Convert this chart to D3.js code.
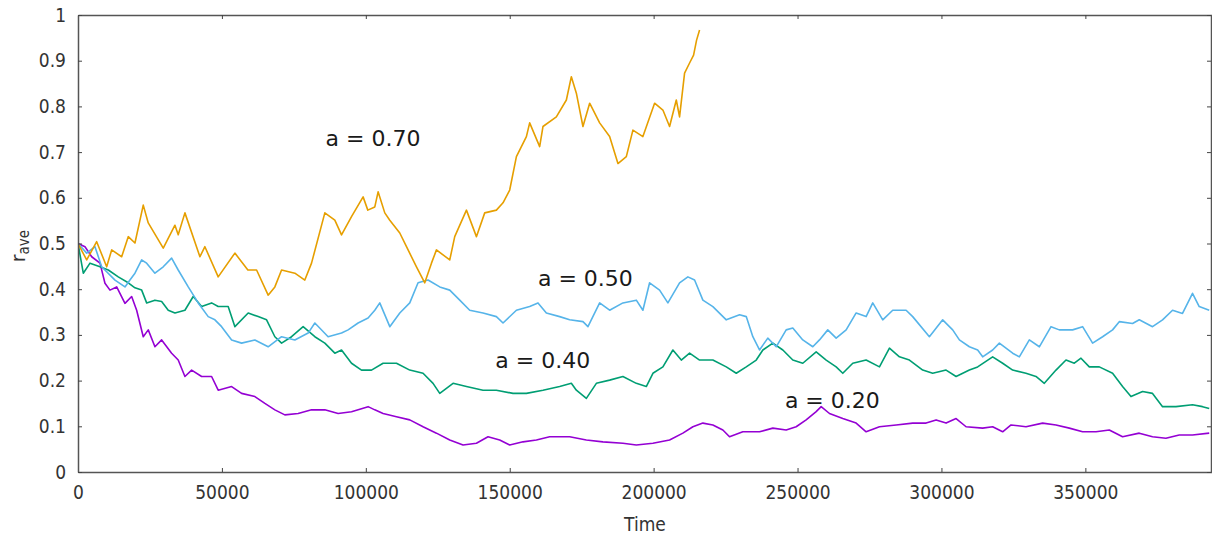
<html>
  <body style="margin:0;background:#fff">
    <script src="https://d3js.org/d3.v7.min.js"></script>
    <script type="text/javascript">
      // [time, r_ave]
      var a070 = [[0,0.500],[3020,0.464],[6490,0.504],[9960,0.449],[11700,0.486],[15170,0.471],[17460,0.515],[19790,0.501],[22670,0.584],[24410,0.545],[29620,0.490],[33680,0.540],[34820,0.519],[37150,0.567],[42360,0.471],[44090,0.493],[48710,0.427],[54510,0.479],[59020,0.442],[62050,0.442],[66070,0.387],[68400,0.405],[70730,0.442],[75340,0.435],[78810,0.420],[81140,0.457],[85760,0.567],[89230,0.551],[91560,0.519],[95030,0.559],[99060,0.602],[100690,0.573],[103120,0.580],[104270,0.613],[106590,0.567],[108330,0.551],[111800,0.523],[114130,0.493],[117600,0.449],[120480,0.414],[122810,0.457],[124540,0.486],[129160,0.464],[130890,0.515],[134960,0.573],[138430,0.515],[141310,0.567],[145370,0.573],[147670,0.589],[149990,0.617],[152320,0.690],[155790,0.734],[156930,0.764],[160400,0.712],[161550,0.756],[166200,0.777],[169680,0.814],[171410,0.865],[173150,0.829],[175440,0.756],[177770,0.807],[181240,0.764],[184710,0.734],[187600,0.675],[190510,0.690],[192800,0.748],[196270,0.734],[200330,0.807],[203220,0.792],[205540,0.756],[207870,0.814],[209010,0.777],[210750,0.873],[212490,0.895],[213880,0.912],[214920,0.945],[215960,0.967]];
      var a050 = [[0,0.500],[3020,0.479],[5900,0.493],[8230,0.449],[12850,0.420],[16320,0.405],[18050,0.420],[19790,0.435],[22120,0.464],[23850,0.457],[26730,0.435],[29620,0.449],[32530,0.468],[34820,0.442],[38300,0.405],[41770,0.370],[45240,0.340],[47570,0.333],[49890,0.318],[53370,0.289],[56840,0.282],[61450,0.289],[66070,0.274],[70730,0.296],[75340,0.289],[79960,0.304],[82290,0.326],[86900,0.296],[91560,0.304],[93850,0.311],[97320,0.326],[100790,0.337],[103120,0.354],[104850,0.370],[108330,0.318],[111800,0.348],[115270,0.370],[118150,0.414],[121620,0.420],[125690,0.405],[129160,0.398],[132630,0.376],[136100,0.354],[140720,0.348],[145370,0.340],[147670,0.326],[152320,0.354],[156930,0.362],[159820,0.370],[162730,0.348],[167350,0.340],[170820,0.333],[175440,0.329],[177180,0.318],[181240,0.370],[184710,0.354],[189330,0.370],[193980,0.376],[196270,0.354],[198600,0.414],[202070,0.398],[204950,0.370],[209010,0.414],[211900,0.427],[214230,0.420],[217110,0.376],[220580,0.362],[225240,0.333],[229860,0.344],[232180,0.340],[234470,0.296],[236790,0.267],[239670,0.293],[242580,0.274],[246050,0.311],[248350,0.315],[251820,0.289],[255300,0.274],[257620,0.289],[260500,0.311],[263420,0.293],[266890,0.311],[270360,0.348],[273830,0.340],[276130,0.370],[279600,0.333],[283070,0.354],[287720,0.354],[290010,0.340],[295810,0.296],[300430,0.333],[303900,0.311],[306230,0.289],[309700,0.274],[312580,0.267],[314320,0.252],[317790,0.267],[320120,0.282],[324740,0.260],[327060,0.252],[330530,0.289],[334010,0.274],[338070,0.318],[340950,0.311],[345570,0.311],[349040,0.318],[352520,0.282],[355990,0.296],[359460,0.311],[361780,0.329],[366400,0.325],[368730,0.333],[373340,0.318],[376820,0.333],[380290,0.354],[383760,0.347],[387230,0.391],[389560,0.362],[393030,0.354]];
      var a040 = [[0,0.500],[1840,0.435],[4170,0.457],[7640,0.449],[10520,0.442],[13990,0.427],[17460,0.414],[19790,0.403],[22120,0.398],[23850,0.370],[26730,0.376],[29060,0.373],[31350,0.354],[33680,0.348],[37150,0.354],[40030,0.384],[42950,0.362],[46420,0.370],[48710,0.362],[52180,0.362],[54510,0.318],[59130,0.348],[62600,0.340],[65520,0.333],[68400,0.296],[70730,0.282],[74200,0.296],[78220,0.318],[82290,0.296],[85760,0.282],[89230,0.260],[91560,0.267],[95030,0.238],[98500,0.223],[101970,0.223],[106000,0.238],[110650,0.238],[115270,0.223],[119890,0.216],[123360,0.194],[125690,0.172],[130310,0.194],[134960,0.187],[140720,0.179],[145370,0.179],[151140,0.172],[155790,0.172],[161550,0.179],[167350,0.187],[171410,0.194],[173150,0.179],[176620,0.161],[180100,0.194],[184710,0.201],[189330,0.209],[193980,0.194],[197450,0.187],[199750,0.216],[203220,0.230],[206690,0.267],[209610,0.245],[212490,0.260],[215960,0.245],[220580,0.245],[225240,0.230],[228710,0.216],[232180,0.230],[235650,0.245],[237950,0.267],[241420,0.282],[244890,0.267],[248350,0.245],[251820,0.238],[256470,0.263],[259950,0.245],[263420,0.230],[265720,0.216],[269190,0.238],[273830,0.245],[278460,0.230],[281930,0.271],[285400,0.252],[288870,0.245],[293490,0.223],[296960,0.216],[301610,0.223],[305090,0.209],[309700,0.223],[312580,0.230],[317790,0.252],[321260,0.238],[324740,0.223],[329370,0.216],[332840,0.209],[335740,0.194],[339800,0.223],[343270,0.245],[346160,0.238],[348480,0.249],[351370,0.230],[354840,0.230],[359460,0.216],[362930,0.187],[365850,0.165],[369880,0.176],[373340,0.172],[376820,0.143],[381470,0.143],[387230,0.147],[390710,0.143],[393030,0.139]];
      var a020 = [[0,0.500],[2430,0.493],[4760,0.471],[7640,0.457],[9370,0.413],[11110,0.398],[13440,0.405],[16320,0.369],[18640,0.384],[20380,0.354],[22670,0.296],[24410,0.311],[26730,0.274],[29060,0.289],[32530,0.260],[34820,0.245],[37150,0.209],[39480,0.223],[42950,0.209],[46420,0.209],[48710,0.179],[53370,0.187],[56840,0.172],[61450,0.165],[64930,0.150],[68400,0.136],[71870,0.125],[76490,0.128],[81140,0.136],[85760,0.136],[90380,0.128],[95030,0.132],[100790,0.143],[103120,0.136],[106000,0.128],[110650,0.121],[115270,0.114],[119890,0.099],[124540,0.085],[129160,0.070],[133780,0.059],[138430,0.063],[142460,0.077],[146520,0.070],[149990,0.059],[154610,0.066],[159260,0.070],[163880,0.077],[170820,0.077],[176620,0.070],[182380,0.066],[189330,0.063],[193980,0.059],[199750,0.063],[205540,0.070],[210160,0.085],[213640,0.099],[217110,0.107],[220580,0.103],[224050,0.092],[226370,0.077],[230990,0.088],[236790,0.088],[241420,0.096],[246050,0.092],[249520,0.099],[252990,0.114],[256470,0.132],[258210,0.143],[261090,0.128],[265720,0.117],[270360,0.107],[273830,0.088],[278460,0.099],[284260,0.103],[290010,0.107],[294670,0.107],[298140,0.114],[301610,0.107],[305090,0.117],[308560,0.099],[314320,0.096],[317790,0.099],[321260,0.088],[324180,0.103],[329370,0.099],[335150,0.107],[339800,0.103],[344420,0.096],[349040,0.088],[353700,0.088],[358310,0.092],[362930,0.077],[368730,0.085],[373340,0.077],[377980,0.074],[382610,0.081],[387230,0.081],[393030,0.085]];

      var seriesNames = ["a = 0.20", "a = 0.40", "a = 0.50", "a = 0.70"];
      var seriesColors = ["#9400d3", "#009e73", "#56b4e9", "#e69f00"];
      var seriesData = [a020, a040, a050, a070];
      // label anchors [time, r_ave]
      var labelPos = [[245600, 0.140], [145000, 0.228], [159800, 0.407], [86000, 0.713]];

      var xTicks = [0, 50000, 100000, 150000, 200000, 250000, 300000, 350000];
      var yTicks = [0, 0.1, 0.2, 0.3, 0.4, 0.5, 0.6, 0.7, 0.8, 0.9, 1];

      var margin = {top: 15, right: 0, bottom: 67, left: 78},
        W = 1212, H = 539,
        width = 1134,
        height = H - margin.top - margin.bottom;

      var svg = d3.select("body").append("svg")
        .attr("width", W).attr("height", H)
        .style("display", "block");
      var g = svg.append("g")
        .attr("transform", "translate(" + margin.left + "," + margin.top + ")");

      var x = d3.scaleLinear().domain([0, 394000]).range([0, width]);
      var y = d3.scaleLinear().domain([0, 1]).range([height, 0]);

      var tickFont = "'DejaVu Sans Condensed', 'DejaVu Sans', sans-serif";

      g.append("clipPath").attr("id", "clip")
        .append("rect").attr("width", width).attr("height", height);

      var line = d3.line()
        .x(function(d) { return x(d[0]); })
        .y(function(d) { return y(d[1]); });

      g.selectAll(".series")
        .data(seriesData)
        .enter().append("path")
        .attr("class", "series")
        .attr("clip-path", "url(#clip)")
        .attr("fill", "none")
        .attr("stroke", function(d, i) { return seriesColors[i]; })
        .attr("stroke-width", 1.6)
        .attr("stroke-linejoin", "round")
        .attr("d", line);

      // axes with inward ticks
      function styleAxis(sel) {
        sel.selectAll("path").attr("stroke", "#555").attr("stroke-width", 1.5);
        sel.selectAll("line").attr("stroke", "#444");
        sel.selectAll("text").attr("fill", "#333")
          .style("font-family", tickFont).style("font-size", "19px");
      }

      g.append("g")
        .attr("transform", "translate(0," + height + ")")
        .call(d3.axisBottom(x).tickValues(xTicks).tickFormat(d3.format("d"))
          .tickSizeInner(-4).tickSizeOuter(0).tickPadding(14))
        .call(styleAxis);

      g.append("g")
        .call(d3.axisTop(x).tickValues(xTicks).tickFormat("")
          .tickSizeInner(-4).tickSizeOuter(0))
        .call(styleAxis);

      g.append("g")
        .call(d3.axisLeft(y).tickValues(yTicks).tickFormat(d3.format("~g"))
          .tickSizeInner(-4).tickSizeOuter(0).tickPadding(12))
        .call(styleAxis);

      g.append("g")
        .attr("transform", "translate(" + (width - 1) + ",0)")
        .call(d3.axisRight(y).tickValues(yTicks).tickFormat("")
          .tickSizeInner(-4).tickSizeOuter(0))
        .call(styleAxis);

      // series labels
      g.selectAll(".lbl")
        .data(seriesNames)
        .enter().append("text")
        .attr("class", "lbl")
        .attr("x", function(d, i) { return x(labelPos[i][0]); })
        .attr("y", function(d, i) { return y(labelPos[i][1]); })
        .attr("fill", "#1a1a1a")
        .style("font-family", "'DejaVu Sans', sans-serif")
        .style("font-size", "22px")
        .text(function(d) { return d; });

      // axis titles
      svg.append("text")
        .attr("x", 645).attr("y", 531)
        .attr("text-anchor", "middle")
        .attr("fill", "#333")
        .style("font-family", tickFont).style("font-size", "19px")
        .text("Time");

      var yl = svg.append("text")
        .attr("transform", "translate(25,246) rotate(-90)")
        .attr("text-anchor", "middle")
        .attr("fill", "#333")
        .style("font-family", tickFont).style("font-size", "20px");
      yl.append("tspan").text("r");
      yl.append("tspan").attr("dy", 4).style("font-size", "15px").text("ave");
    </script>
  </body>
</html>
